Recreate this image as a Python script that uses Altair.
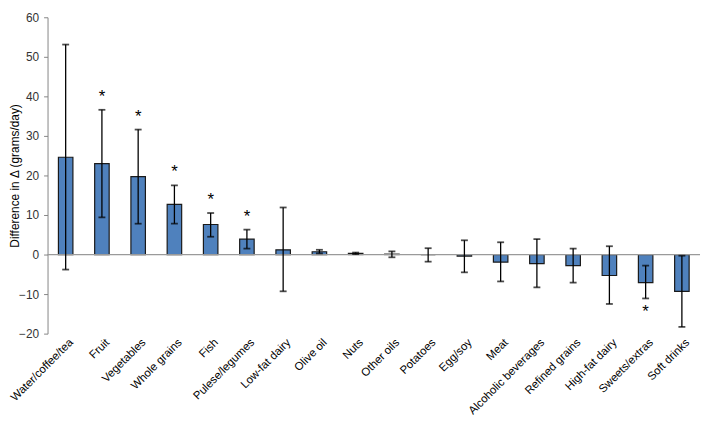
import altair as alt
import pandas as pd

categories = ["Water/coffee/tea", "Fruit", "Vegetables", "Whole grains", "Fish",
              "Pulese/legumes", "Low-fat dairy", "Olive oil", "Nuts", "Other oils",
              "Potatoes", "Egg/soy", "Meat", "Alcoholic beverages", "Refined grains",
              "High-fat dairy", "Sweets/extras", "Soft drinks"]
values = [24.6, 23.0, 19.7, 12.7, 7.6, 3.9, 1.2, 0.7, 0.3, 0.1, 0.0, -0.4,
          -1.9, -2.3, -2.8, -5.3, -7.1, -9.3]
lower = [-3.8, 9.4, 7.8, 7.8, 4.5, 1.5, -9.3, 0.3, 0.1, -0.7, -1.8, -4.5,
         -6.8, -8.3, -7.1, -12.5, -11.1, -18.3]
upper = [53.1, 36.6, 31.6, 17.5, 10.5, 6.3, 11.9, 1.2, 0.5, 0.8, 1.6, 3.6,
         3.1, 3.9, 1.5, 2.1, -2.8, -0.3]
significant = [False, True, True, True, True, True, False, False, False, False,
               False, False, False, False, False, False, True, False]
y_ticks = [-20, -10, 0, 10, 20, 30, 40, 50, 60]

df = pd.DataFrame({"cat": categories, "value": values, "lower": lower,
                   "upper": upper, "sig": significant})
stars = df[df["sig"]].copy()
stars["star_y"] = [u + 4.0 if v > 0 else l - 2.7
                   for v, u, l in zip(stars["value"], stars["upper"], stars["lower"])]
stars["label"] = "*"

FONT = "Liberation Sans"
YTITLE = "Difference in Δ (grams/day)"
xaxis = alt.Axis(labelAngle=-45, labelAlign="right", labelBaseline="middle",
                 domain=False, ticks=False, labelPadding=7, labelOffset=6,
                 labelOverlap=False,
                 labelFont=FONT, labelFontSize=11.5, labelColor="#000000")
xscale = alt.Scale(paddingInner=0.6, paddingOuter=0.3)
yscale = alt.Scale(domain=[-20, 60], nice=False)
yaxis = alt.Axis(values=y_ticks, grid=False, labelOverlap=False,
                 domainColor="#868686", tickColor="#868686", tickSize=4,
                 labelPadding=5,
                 labelFont=FONT, labelFontSize=12, labelColor="#333333",
                 titleFont=FONT, titleFontSize=12, titleFontWeight="normal",
                 titleColor="#000000", titleX=-26)


def X():
    return alt.X("cat:N", sort=categories, title=None, scale=xscale, axis=xaxis)


def Y(field):
    return alt.Y(field, scale=yscale, title=YTITLE, axis=yaxis)


base = alt.Chart(df)

bars = base.mark_bar(color="#4F81BD", stroke="#1a1a1a", strokeWidth=1.2).encode(
    x=X(), y=Y("value:Q"))

zero = alt.Chart(pd.DataFrame({"z": [0]})).mark_rule(color="#9a9a9a", strokeWidth=1.2).encode(
    y=Y("z:Q"))

err = base.mark_rule(color="#000000", strokeWidth=1.3).encode(
    x=X(), y=Y("lower:Q"), y2="upper:Q")
cap_hi = base.mark_tick(color="#000000", size=7, thickness=1.8, orient="horizontal").encode(
    x=X(), y=Y("upper:Q"))
cap_lo = base.mark_tick(color="#000000", size=7, thickness=1.8, orient="horizontal").encode(
    x=X(), y=Y("lower:Q"))

star_text = alt.Chart(stars).mark_text(font=FONT, fontSize=17, color="#000000",
                                       baseline="middle", dy=3).encode(
    x=X(), y=Y("star_y:Q"), text="label:N")

chart = alt.layer(bars, zero, err, cap_hi, cap_lo, star_text).properties(
    width=660, height=320,
    autosize=alt.AutoSizeParams(type="none"),
    padding={"left": 40, "top": 7, "right": 1, "bottom": 86},
).configure_view(stroke=None)

chart.save("out.html", embed_options={"renderer": "svg", "actions": False})
